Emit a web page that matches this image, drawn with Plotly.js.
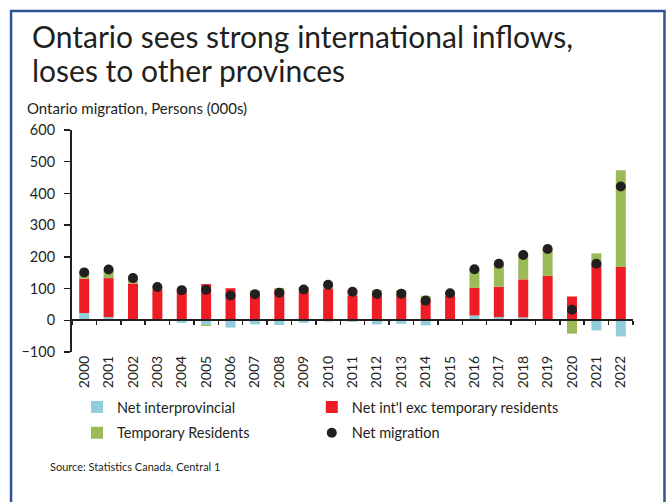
<!DOCTYPE html>
<html>
<head>
<meta charset="utf-8">
<script src="https://cdn.plot.ly/plotly-3.0.1.min.js"></script>
<style>
html,body{margin:0;padding:0;background:#fff;}
#chart{width:668px;height:502px;}
</style>
</head>
<body>
<div id="chart"></div>
<script>
const years = ["2000","2001","2002","2003","2004","2005","2006","2007","2008","2009","2010","2011","2012","2013","2014","2015","2016","2017","2018","2019","2020","2021","2022"];
const netInterprovincial = [23, 10, -1, -2, -8, -13, -23, -13, -15, -8, -4, -5, -13, -11, -16, 0, 15, 10, 9, 4, 0, -32, -51];
const netIntlExcTemp = [108, 123, 116, 97, 97, 114, 101, 86, 95, 89, 100, 79, 76, 79, 63, 77, 87, 96, 120, 136, 75, 179, 168];
const temporaryResidents = [21, 26, 18, 10, 5, -5, 0, 9, 7, 16, 16, 15, 20, 16, 14, 8, 59, 72, 77, 85, -42, 32, 305];
const netMigration = [151, 160, 133, 105, 95, 96, 78, 82, 87, 97, 112, 90, 83, 84, 62, 85, 161, 178, 206, 225, 33, 178, 422];

const L = 72, R = 633.5, T = 130, B = 352;
const px = x => (x - L) / (R - L);
const py = y => (B - y) / (B - T);
const font = 'Lato, "Open Sans", sans-serif';
const txt = '#231F20';

const traces = [
  {type:'bar', name:'Net interprovincial', x:years, y:netInterprovincial, marker:{color:'#92CDDC'}, xaxis:'x', yaxis:'y', legend:'legend', legendgroup:'a'},
  {type:'bar', name:"Net int'l exc temporary residents", x:years, y:netIntlExcTemp, marker:{color:'#EE1C25'}, xaxis:'x', yaxis:'y', legend:'legend2', legendgroup:'b'},
  {type:'bar', name:'Temporary Residents', x:years, y:temporaryResidents, marker:{color:'#9BBB59'}, xaxis:'x', yaxis:'y', legend:'legend', legendgroup:'c'},
  {type:'scatter', mode:'markers', name:'Net migration', x:years, y:netMigration, marker:{color:'#231F20', size:10}, xaxis:'x2', yaxis:'y', legend:'legend2', legendgroup:'d'}
];

const legendBase = {orientation:'v', xanchor:'left', yanchor:'top', traceorder:'grouped', font:{size:14.5, family:font, color:txt}, itemwidth:30, tracegroupgap:4, bgcolor:'rgba(0,0,0,0)'};

const layout = {
  width:668, height:502,
  margin:{l:L, r:668-R, t:T, b:502-B, pad:0},
  paper_bgcolor:'#fff', plot_bgcolor:'#fff',
  barmode:'relative', bargap:0.59,
  font:{family:font, size:14, color:txt},
  showlegend:true,
  legend:Object.assign({}, legendBase, {x:px(77), y:py(391)}),
  legend2:Object.assign({}, legendBase, {x:px(312), y:py(391)}),
  xaxis:{type:'category', range:[-0.5,22.5], showline:false, ticks:'', showgrid:false, zeroline:false, tickangle:-90, tickfont:{size:14, family:font, color:txt}, fixedrange:true},
  xaxis2:{type:'category', overlaying:'x', matches:'x', anchor:'free', position:1/7, side:'bottom', showline:true, linecolor:'#231F20', linewidth:2, ticks:'outside', ticklen:4, tickwidth:1.5, tickcolor:'#231F20', tickson:'boundaries', showticklabels:false, showgrid:false, zeroline:false},
  yaxis:{range:[-100,600], dtick:100, showline:true, linecolor:'#231F20', linewidth:2, ticks:'outside', ticklen:6, tickwidth:1.5, tickcolor:'#231F20', ticklabelstandoff:6, showgrid:false, zeroline:false, tickfont:{size:14.5, family:font, color:txt}},
  annotations:[
    {text:'Ontario sees strong international inflows,', xref:'paper', yref:'paper', x:px(30), y:py(36), xanchor:'left', yanchor:'middle', showarrow:false, font:{size:30, family:font, color:txt}},
    {text:'loses to other provinces', xref:'paper', yref:'paper', x:px(30), y:py(70), xanchor:'left', yanchor:'middle', showarrow:false, font:{size:30, family:font, color:txt}},
    {text:'Ontario migration, Persons (000s)', xref:'paper', yref:'paper', x:px(25), y:py(108), xanchor:'left', yanchor:'middle', showarrow:false, font:{size:15, family:font, color:txt}},
    {text:'Source: Statistics Canada, Central 1', xref:'paper', yref:'paper', x:px(48), y:py(466), xanchor:'left', yanchor:'middle', showarrow:false, font:{size:11, family:font, color:txt}}
  ],
  shapes:[
    {type:'path', xref:'paper', yref:'paper', path:`M ${px(11)} ${py(520)} L ${px(11)} ${py(11)} L ${px(665)} ${py(11)} L ${px(665)} ${py(520)}`, line:{color:'#2F5496', width:2.5}}
  ]
};

Plotly.newPlot('chart', traces, layout, {staticPlot:true, displayModeBar:false});
</script>
</body>
</html>
